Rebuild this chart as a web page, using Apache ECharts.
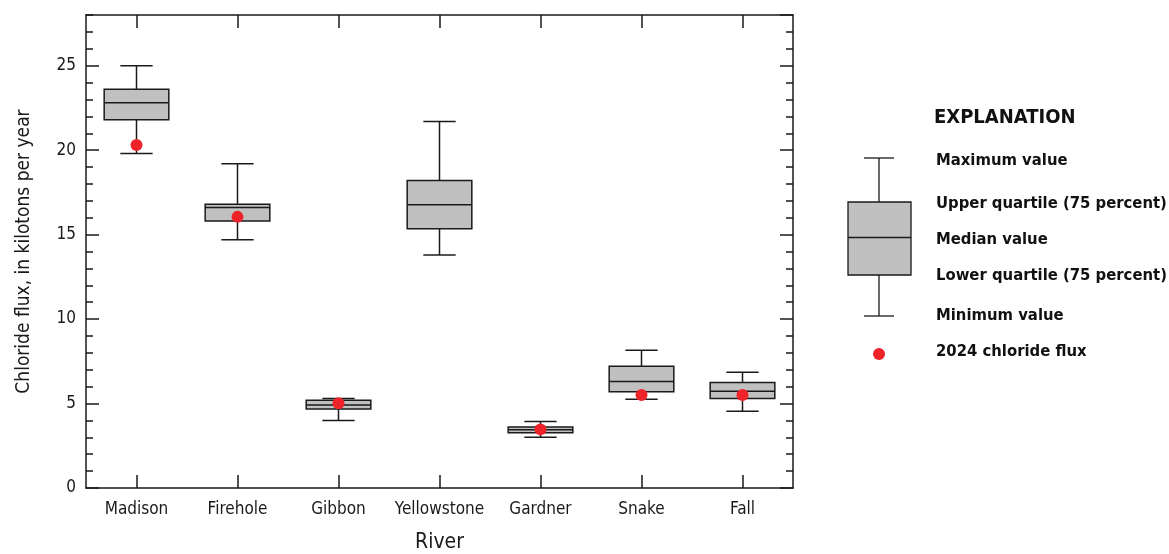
<!DOCTYPE html>
<html>
<head>
<meta charset="utf-8">
<script src="https://cdn.jsdelivr.net/npm/echarts@6/dist/echarts.min.js"></script>
<style>
html,body{margin:0;padding:0;background:#fff;}
#chart{width:1169px;height:554px;}
</style>
</head>
<body>
<div id="chart"></div>
<script>
const categories = ['Madison', 'Firehole', 'Gibbon', 'Yellowstone', 'Gardner', 'Snake', 'Fall'];
const minVals = [19.8, 14.7, 4.0, 13.8, 3.0, 5.25, 4.55];
const q1Vals  = [21.8, 15.8, 4.67, 15.35, 3.27, 5.7, 5.3];
const medVals = [22.8, 16.6, 4.92, 16.77, 3.45, 6.3, 5.72];
const q3Vals  = [23.6, 16.8, 5.19, 18.2, 3.61, 7.2, 6.24];
const maxVals = [25.0, 19.2, 5.3, 21.7, 3.93, 8.15, 6.85];
const flux2024 = [20.3, 16.05, 5.01, null, 3.47, 5.5, 5.5];
const legendLabels = ['Maximum value', 'Upper quartile (75 percent)', 'Median value', 'Lower quartile (75 percent)', 'Minimum value', '2024 chloride flux'];

const FONT = "'Liberation Sans Narrow', 'DejaVu Sans Condensed', 'Roboto Condensed', sans-serif";
const INK = '#1a1a1a';
const BOXFILL = '#c0c0c0';
const RED = '#ee2229';

const boxData = categories.map((c, i) => [i, minVals[i], q1Vals[i], medVals[i], q3Vals[i], maxVals[i]]);
const dotData = [];
flux2024.forEach((v, i) => { if (v !== null) dotData.push([i, v]); });

const chart = echarts.init(document.getElementById('chart'), null, {renderer: 'canvas'});

function renderBox(params, api) {
  const x = api.value(0);
  const pMin = api.coord([x, api.value(1)]);
  const pQ1 = api.coord([x, api.value(2)]);
  const pMed = api.coord([x, api.value(3)]);
  const pQ3 = api.coord([x, api.value(4)]);
  const pMax = api.coord([x, api.value(5)]);
  const band = api.size([1, 0])[0];
  const bw = band * 0.64;
  const cw = band * 0.32;
  const cx = pMin[0];
  const ls = {stroke: INK, lineWidth: 1.5};
  return {
    type: 'group',
    children: [
      {type: 'line', shape: {x1: cx, y1: pMax[1], x2: cx, y2: pQ3[1]}, style: ls},
      {type: 'line', shape: {x1: cx, y1: pQ1[1], x2: cx, y2: pMin[1]}, style: ls},
      {type: 'line', shape: {x1: cx - cw / 2, y1: pMax[1], x2: cx + cw / 2, y2: pMax[1]}, style: ls},
      {type: 'line', shape: {x1: cx - cw / 2, y1: pMin[1], x2: cx + cw / 2, y2: pMin[1]}, style: ls},
      {type: 'rect', shape: {x: cx - bw / 2, y: pQ3[1], width: bw, height: pQ1[1] - pQ3[1]}, style: {fill: BOXFILL, stroke: INK, lineWidth: 1.5}},
      {type: 'line', shape: {x1: cx - bw / 2, y1: pMed[1], x2: cx + bw / 2, y2: pMed[1]}, style: ls}
    ]
  };
}

const axisLineStyle = {color: INK, width: 1.5};

function yAxis(pos, major, showLabel, name) {
  return {
    type: 'value', position: pos, min: 0, max: 28,
    interval: major ? 5 : 1,
    name: name || '',
    nameLocation: 'middle', nameGap: 52,
    nameTextStyle: {fontFamily: FONT, fontSize: 19, color: INK},
    axisLine: {show: major, onZero: false, lineStyle: axisLineStyle},
    axisTick: {show: true, inside: true, length: major ? 13 : 7, lineStyle: {color: INK, width: 1.5}},
    axisLabel: {show: showLabel, showMaxLabel: false, margin: 10, fontFamily: FONT, fontSize: 17, color: INK},
    splitLine: {show: false}
  };
}

const option = {
  backgroundColor: '#fff',
  animation: false,
  grid: {left: 86, top: 15, right: 376, bottom: 66, containLabel: false, outerBoundsMode: 'none'},
  xAxis: [
    {
      type: 'category', position: 'bottom', data: categories,
      name: 'River', nameLocation: 'middle', nameGap: 44,
      nameTextStyle: {fontFamily: FONT, fontSize: 21, color: INK},
      axisLine: {show: true, onZero: false, lineStyle: axisLineStyle},
      axisTick: {show: true, inside: true, alignWithLabel: true, interval: 0, length: 13, lineStyle: {color: INK, width: 1.5}},
      axisLabel: {interval: 0, margin: 13, fontFamily: FONT, fontSize: 17, color: INK},
      splitLine: {show: false}
    },
    {
      type: 'category', position: 'top', data: categories,
      axisLine: {show: true, onZero: false, lineStyle: axisLineStyle},
      axisTick: {show: true, inside: true, alignWithLabel: true, interval: 0, length: 13, lineStyle: {color: INK, width: 1.5}},
      axisLabel: {show: false},
      splitLine: {show: false}
    }
  ],
  yAxis: [
    yAxis('left', true, true, 'Chloride flux, in kilotons per year'),
    yAxis('left', false, false),
    yAxis('right', true, false),
    yAxis('right', false, false)
  ],
  series: [
    {
      type: 'custom', name: 'box', xAxisIndex: 0, yAxisIndex: 0,
      renderItem: renderBox, data: boxData,
      encode: {x: 0, y: [1, 2, 3, 4, 5]}, z: 2
    },
    {
      type: 'scatter', name: '2024 chloride flux', xAxisIndex: 0, yAxisIndex: 0,
      data: dotData, symbol: 'circle', symbolSize: 12,
      itemStyle: {color: RED, opacity: 1}, z: 3
    }
  ],
  graphic: (function () {
    const g = [];
    const lx = 879, ls = {stroke: INK, lineWidth: 1.3};
    g.push({type: 'text', left: 934, top: 108, style: {text: 'EXPLANATION', fontFamily: FONT, fontSize: 20, fontWeight: 'bold', fill: '#111'}});
    g.push({type: 'line', shape: {x1: lx, y1: 158, x2: lx, y2: 202}, style: ls});
    g.push({type: 'line', shape: {x1: lx, y1: 275, x2: lx, y2: 316}, style: ls});
    g.push({type: 'line', shape: {x1: 864, y1: 158, x2: 894, y2: 158}, style: ls});
    g.push({type: 'line', shape: {x1: 864, y1: 316, x2: 894, y2: 316}, style: ls});
    g.push({type: 'rect', shape: {x: 848, y: 202, width: 63, height: 73}, style: {fill: BOXFILL, stroke: INK, lineWidth: 1.3}});
    g.push({type: 'line', shape: {x1: 848, y1: 237.5, x2: 911, y2: 237.5}, style: ls});
    g.push({type: 'circle', shape: {cx: lx, cy: 354, r: 6}, style: {fill: RED}});
    const ys = [161, 204, 240, 276, 316, 352];
    legendLabels.forEach((t, i) => {
      g.push({type: 'text', x: 936, y: ys[i], style: {text: t, fontFamily: FONT, fontSize: 16.5, fontWeight: 'bold', fill: '#111', verticalAlign: 'middle'}});
    });
    return g;
  })()
};
chart.setOption(option);
</script>
</body>
</html>
